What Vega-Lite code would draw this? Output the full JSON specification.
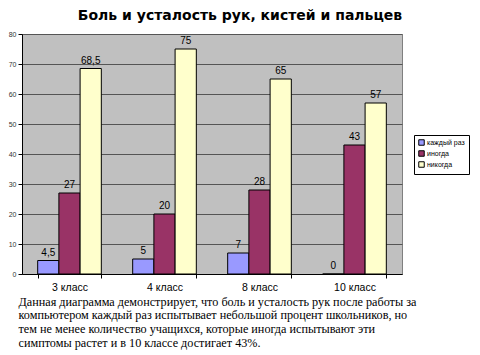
{
  "$schema": "https://vega.github.io/schema/vega-lite/v6.json",
  "width": 380,
  "height": 240,
  "autosize": "none",
  "padding": {"left": 22, "top": 34, "right": 78, "bottom": 81},
  "background": "white",
  "title": {
    "text": "Боль и усталость рук, кистей и пальцев",
    "font": "DejaVu Sans",
    "fontSize": 14,
    "fontWeight": "bold",
    "color": "#000000",
    "anchor": "middle",
    "frame": "group",
    "dx": 28,
    "offset": 7
  },
  "data": {
    "values": [
      {"class": "3 класс", "series": "каждый раз", "value": 4.5, "label": "4,5"},
      {"class": "3 класс", "series": "иногда", "value": 27, "label": "27"},
      {"class": "3 класс", "series": "никогда", "value": 68.5, "label": "68,5"},
      {"class": "4 класс", "series": "каждый раз", "value": 5, "label": "5"},
      {"class": "4 класс", "series": "иногда", "value": 20, "label": "20"},
      {"class": "4 класс", "series": "никогда", "value": 75, "label": "75"},
      {"class": "8 класс", "series": "каждый раз", "value": 7, "label": "7"},
      {"class": "8 класс", "series": "иногда", "value": 28, "label": "28"},
      {"class": "8 класс", "series": "никогда", "value": 65, "label": "65"},
      {"class": "10 класс", "series": "каждый раз", "value": 0, "label": "0"},
      {"class": "10 класс", "series": "иногда", "value": 43, "label": "43"},
      {"class": "10 класс", "series": "никогда", "value": 57, "label": "57"}
    ]
  },
  "encoding": {
    "x": {
      "field": "class",
      "type": "nominal",
      "sort": ["3 класс", "4 класс", "8 класс", "10 класс"],
      "scale": {"paddingInner": 0.33, "paddingOuter": 0.165},
      "axis": {
        "labelAngle": 0,
        "labelFont": "Arial",
        "labelFontSize": 10.5,
        "labelColor": "#000000",
        "labelPadding": 4,
        "domainColor": "#000000",
        "tickColor": "#000000",
        "tickBand": "extent",
        "tickSize": 4,
        "title": [
          "Данная диаграмма демонстрирует, что боль и усталость рук после работы за",
          "компьютером каждый раз испытывает небольшой процент школьников, но",
          "тем не менее количество учащихся, которые иногда испытывают эти",
          "симптомы растет и в 10 классе достигает 43%."
        ],
        "titleFont": "Liberation Serif",
        "titleFontSize": 12.2,
        "titleFontWeight": "normal",
        "titleColor": "#000000",
        "titleAlign": "left",
        "titleAnchor": "start",
        "titleBaseline": "top",
        "titleLineHeight": 13.7,
        "titleX": -4,
        "titleY": 21
      }
    },
    "xOffset": {
      "field": "series",
      "type": "nominal",
      "sort": ["каждый раз", "иногда", "никогда"]
    },
    "y": {
      "field": "value",
      "type": "quantitative",
      "scale": {"domain": [0, 80], "nice": false},
      "axis": {
        "values": [0, 10, 20, 30, 40, 50, 60, 70, 80],
        "title": null,
        "labelFont": "Arial",
        "labelFontSize": 7,
        "labelColor": "#333333",
        "labelPadding": 2,
        "tickSize": 4,
        "tickColor": "#000000",
        "domainColor": "#000000",
        "gridColor": "#555555",
        "gridOpacity": 1
      }
    }
  },
  "layer": [
    {
      "mark": {"type": "bar", "stroke": "#000000", "strokeWidth": 1},
      "encoding": {
        "color": {
          "field": "series",
          "type": "nominal",
          "sort": ["каждый раз", "иногда", "никогда"],
          "scale": {
            "domain": ["каждый раз", "иногда", "никогда"],
            "range": ["#9999ff", "#993366", "#ffffcc"]
          },
          "legend": {
            "title": null,
            "orient": "none",
            "legendX": 392,
            "legendY": 101,
            "symbolType": "square",
            "symbolSize": 30,
            "symbolStrokeColor": "#000000",
            "symbolStrokeWidth": 1,
            "labelFont": "Arial",
            "labelFontSize": 7,
            "labelColor": "#000000",
            "rowPadding": 0,
            "labelOffset": 2,
            "padding": 4,
            "strokeColor": "#000000",
            "fillColor": "#ffffff"
          }
        }
      }
    },
    {
      "mark": {"type": "text", "baseline": "bottom", "dy": -3, "font": "Arial", "fontSize": 10, "color": "#000000"},
      "encoding": {"text": {"field": "label"}}
    }
  ],
  "config": {
    "view": {"fill": "#c0c0c0", "stroke": "#808080"},
    "axis": {"grid": false},
    "axisY": {"grid": true}
  }
}
